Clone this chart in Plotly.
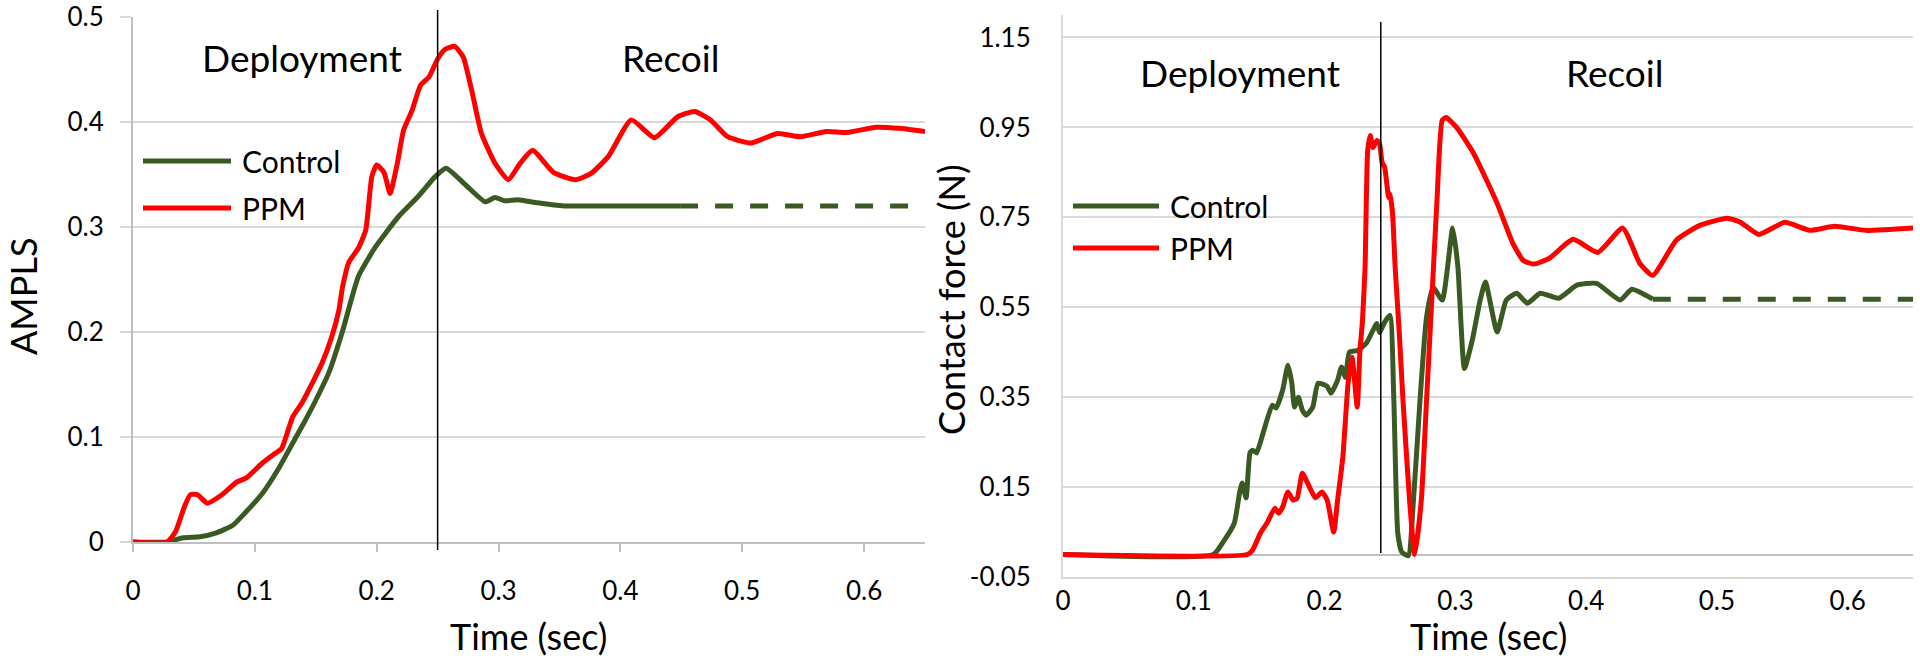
import plotly.graph_objects as go

# ---------------- data ----------------
# Left panel (AMPLS)
ampls_ppm_t = [0, 0.028, 0.035, 0.042, 0.047, 0.053, 0.061, 0.073, 0.085, 0.093, 0.106, 0.115, 0.122,
               0.131, 0.139, 0.147, 0.155, 0.163, 0.169, 0.172, 0.177, 0.185, 0.191, 0.196, 0.200,
               0.206, 0.211, 0.217, 0.222, 0.229, 0.236, 0.243, 0.250, 0.256, 0.264, 0.271, 0.278,
               0.286, 0.297, 0.308, 0.318, 0.328, 0.345, 0.363, 0.376, 0.390, 0.409, 0.428, 0.447,
               0.461, 0.474, 0.488, 0.507, 0.529, 0.548, 0.569, 0.586, 0.610, 0.629, 0.650]
ampls_ppm_v = [0, 0, 0.010, 0.033, 0.045, 0.045, 0.037, 0.045, 0.057, 0.061, 0.075, 0.083, 0.089,
               0.119, 0.133, 0.151, 0.170, 0.195, 0.221, 0.243, 0.266, 0.280, 0.297, 0.348, 0.359,
               0.352, 0.332, 0.361, 0.392, 0.411, 0.435, 0.443, 0.460, 0.469, 0.472, 0.462, 0.430,
               0.389, 0.361, 0.345, 0.361, 0.373, 0.352, 0.345, 0.351, 0.367, 0.402, 0.385, 0.405,
               0.410, 0.402, 0.386, 0.380, 0.389, 0.386, 0.391, 0.390, 0.395, 0.394, 0.391]

ampls_ctrl_t = [0, 0.028, 0.041, 0.055, 0.069, 0.082, 0.093, 0.106, 0.120, 0.131, 0.141, 0.150, 0.161,
                0.172, 0.185, 0.199, 0.218, 0.234, 0.248, 0.257, 0.273, 0.289, 0.297, 0.305, 0.316,
                0.332, 0.354, 0.373, 0.449]
ampls_ctrl_v = [0, 0, 0.004, 0.005, 0.009, 0.016, 0.029, 0.046, 0.071, 0.094, 0.115, 0.135, 0.162,
                0.201, 0.253, 0.281, 0.310, 0.329, 0.348, 0.356, 0.340, 0.324, 0.328, 0.325, 0.326,
                0.323, 0.320, 0.320, 0.320]
ampls_ctrl_ext_t = [0.449, 0.650]
ampls_ctrl_ext_v = [0.320, 0.320]

# Right panel (Contact force)
force_ppm_t = [0, 0.141, 0.145, 0.151, 0.156, 0.162, 0.165, 0.168, 0.172, 0.176, 0.179, 0.183, 0.187,
               0.193, 0.198, 0.202, 0.207, 0.210, 0.214, 0.218, 0.221, 0.225, 0.227, 0.229, 0.231,
               0.233, 0.235, 0.237, 0.240, 0.242, 0.244, 0.246, 0.249, 0.250, 0.252, 0.254, 0.257,
               0.260, 0.265, 0.269, 0.274, 0.278, 0.282, 0.286, 0.290, 0.293, 0.301, 0.314, 0.332,
               0.344, 0.352, 0.360, 0.372, 0.390, 0.409, 0.428, 0.441, 0.451, 0.469, 0.487, 0.508,
               0.518, 0.532, 0.552, 0.571, 0.590, 0.614, 0.650]
force_ppm_v = [0, 0, 0.010, 0.048, 0.070, 0.103, 0.092, 0.106, 0.139, 0.121, 0.125, 0.181, 0.159,
               0.126, 0.139, 0.121, 0.050, 0.121, 0.217, 0.381, 0.439, 0.328, 0.450, 0.520, 0.640,
               0.899, 0.932, 0.905, 0.921, 0.915, 0.872, 0.861, 0.794, 0.803, 0.759, 0.639, 0.500,
               0.343, 0.121, 0.000, 0.121, 0.343, 0.566, 0.788, 0.966, 0.972, 0.950, 0.892, 0.781,
               0.692, 0.654, 0.646, 0.659, 0.701, 0.672, 0.726, 0.648, 0.621, 0.699, 0.732, 0.748,
               0.739, 0.712, 0.739, 0.721, 0.730, 0.721, 0.726]

force_ctrl_t = [0, 0.115, 0.122, 0.131, 0.135, 0.137, 0.140, 0.143, 0.145, 0.148, 0.153, 0.160, 0.163,
                0.168, 0.172, 0.175, 0.177, 0.180, 0.183, 0.186, 0.191, 0.195, 0.202, 0.205, 0.210,
                0.213, 0.216, 0.219, 0.225, 0.232, 0.240, 0.242, 0.246, 0.250, 0.253, 0.256, 0.259,
                0.264, 0.268, 0.273, 0.278, 0.283, 0.290, 0.298, 0.302, 0.307, 0.313, 0.319, 0.323,
                0.332, 0.339, 0.347, 0.355, 0.365, 0.379, 0.393, 0.408, 0.426, 0.435, 0.451]
force_ctrl_v = [0, 0, 0.026, 0.070, 0.137, 0.159, 0.126, 0.226, 0.232, 0.226, 0.270, 0.332, 0.326,
                0.366, 0.421, 0.381, 0.328, 0.350, 0.321, 0.310, 0.328, 0.381, 0.374, 0.359, 0.388,
                0.417, 0.394, 0.450, 0.454, 0.470, 0.514, 0.494, 0.517, 0.532, 0.343, 0.048, 0.006,
                -0.003, 0.121, 0.343, 0.528, 0.594, 0.566, 0.726, 0.639, 0.414, 0.477, 0.566, 0.606,
                0.495, 0.566, 0.581, 0.559, 0.581, 0.570, 0.599, 0.603, 0.566, 0.590, 0.568]
force_ctrl_ext_t = [0.451, 0.650]
force_ctrl_ext_v = [0.568, 0.568]

left_phase_boundary = 0.25
right_phase_boundary = 0.243

x_tickvals = [0, 0.1, 0.2, 0.3, 0.4, 0.5, 0.6]
x_ticktext = ["0", "0.1", "0.2", "0.3", "0.4", "0.5", "0.6"]
left_y_tickvals = [0, 0.1, 0.2, 0.3, 0.4, 0.5]
left_y_ticktext = ["0", "0.1", "0.2", "0.3", "0.4", "0.5"]
right_y_tickvals = [-0.05, 0.15, 0.35, 0.55, 0.75, 0.95, 1.15]
right_y_ticktext = ["-0.05", "0.15", "0.35", "0.55", "0.75", "0.95", "1.15"]

series_names = ["Control", "PPM"]

# ---------------- style ----------------
W, H = 1920, 658
GREEN = "#3b5a23"
RED = "#ff0000"
GRID = "#d9d9d9"
AXIS = "#bfbfbf"
FONT = "Lato"
LW = 5


def fx(px):
    return px / W


def fy(py):
    return 1 - py / H


fig = go.Figure()

line_kw = dict(shape="spline", smoothing=0.5, width=LW)

fig.add_trace(go.Scatter(x=ampls_ctrl_t, y=ampls_ctrl_v, mode="lines", name=series_names[0],
                         line=dict(color=GREEN, **line_kw), xaxis="x", yaxis="y", showlegend=False))
fig.add_trace(go.Scatter(x=ampls_ctrl_ext_t, y=ampls_ctrl_ext_v, mode="lines",
                         line=dict(color=GREEN, width=LW, dash="18px,17px"), xaxis="x", yaxis="y",
                         showlegend=False))
fig.add_trace(go.Scatter(x=ampls_ppm_t, y=ampls_ppm_v, mode="lines", name=series_names[1],
                         line=dict(color=RED, **line_kw), xaxis="x", yaxis="y", showlegend=False))

fig.add_trace(go.Scatter(x=force_ctrl_t, y=force_ctrl_v, mode="lines", name=series_names[0],
                         line=dict(color=GREEN, **line_kw), xaxis="x2", yaxis="y2", showlegend=False))
fig.add_trace(go.Scatter(x=force_ctrl_ext_t, y=force_ctrl_ext_v, mode="lines",
                         line=dict(color=GREEN, width=LW, dash="18px,17px"), xaxis="x2", yaxis="y2",
                         showlegend=False))
fig.add_trace(go.Scatter(x=force_ppm_t, y=force_ppm_v, mode="lines", name=series_names[1],
                         line=dict(color=RED, **line_kw), xaxis="x2", yaxis="y2", showlegend=False))

tickfont = dict(family=FONT, size=26, color="black")

fig.update_layout(
    template="none",
    width=W, height=H, margin=dict(l=0, r=0, t=0, b=0, pad=0, autoexpand=False),
    paper_bgcolor="white", plot_bgcolor="white", showlegend=False,
    xaxis=dict(domain=[fx(133), fx(925)], range=[0, 0.65], anchor="y", automargin=False,
               tickvals=x_tickvals, ticktext=x_ticktext, tickfont=tickfont,
               showgrid=False, zeroline=False, showline=True, linecolor=AXIS, linewidth=2,
               ticks="outside", ticklen=8, tickcolor=AXIS, tickwidth=2, ticklabelstandoff=17),
    yaxis=dict(domain=[fy(542), fy(17)], range=[0, 0.5], anchor="x", automargin=False,
               tickvals=left_y_tickvals, ticktext=left_y_ticktext, tickfont=tickfont,
               showgrid=True, gridcolor=GRID, gridwidth=2, zeroline=False,
               showline=True, linecolor=AXIS, linewidth=2,
               ticks="outside", ticklen=11, tickcolor=GRID, tickwidth=2, ticklabelstandoff=11),
    xaxis2=dict(domain=[fx(1063), fx(1913)], range=[0, 0.65], anchor="y2", automargin=False,
                tickvals=x_tickvals, ticktext=x_ticktext, tickfont=tickfont,
                showgrid=False, zeroline=False, showline=True, linecolor=GRID, linewidth=2,
                ticks="", ticklabelstandoff=0),
    yaxis2=dict(domain=[fy(577), fy(15)], range=[-0.05, 1.2], anchor="x2", automargin=False,
                tickvals=right_y_tickvals, ticktext=right_y_ticktext, tickfont=tickfont,
                showgrid=True, gridcolor=GRID, gridwidth=2,
                zeroline=True, zerolinecolor=AXIS, zerolinewidth=2,
                showline=True, linecolor=GRID, linewidth=2, ticks="", ticklabelstandoff=25),
)

shapes = []
# phase boundary lines
shapes.append(dict(type="line", xref="x", yref="paper", x0=left_phase_boundary, x1=left_phase_boundary,
                   y0=fy(550), y1=fy(10), line=dict(color="black", width=1.5)))
shapes.append(dict(type="line", xref="x2", yref="paper", x0=right_phase_boundary, x1=right_phase_boundary,
                   y0=fy(553), y1=fy(22), line=dict(color="black", width=1.5)))

annotations = []


def add_text(text, px, py, size, anchor="center", angle=0):
    annotations.append(dict(text=text, x=fx(px), y=fy(py), xref="paper", yref="paper",
                            showarrow=False, xanchor=anchor, yanchor="middle", textangle=angle,
                            font=dict(family=FONT, size=size, color="black")))


# manual legends
for (lx0, lx1, tx, ys) in [(143, 231, 240, (161, 208)), (1073, 1159, 1168, (206, 248))]:
    for name, color, yy in zip(series_names, [GREEN, RED], ys):
        shapes.append(dict(type="line", xref="paper", yref="paper", x0=fx(lx0), x1=fx(lx1),
                           y0=fy(yy), y1=fy(yy), line=dict(color=color, width=LW)))
        add_text(name, tx, yy, 30, anchor="left")

add_text("Deployment", 302, 58, 37)
add_text("Recoil", 670, 58, 37)
add_text("Deployment", 1240, 72, 37)
add_text("Recoil", 1614, 72, 37)
add_text("Time (sec)", 528, 636, 36)
add_text("Time (sec)", 1488, 636, 36)
add_text("AMPLS", 23, 297, 36, angle=-90)
add_text("Contact force (N)", 951, 300, 36, angle=-90)

fig.update_layout(shapes=shapes, annotations=annotations)

fig.write_html("out.html", config={"displayModeBar": False},
               post_script="document.body.style.margin='0';")
